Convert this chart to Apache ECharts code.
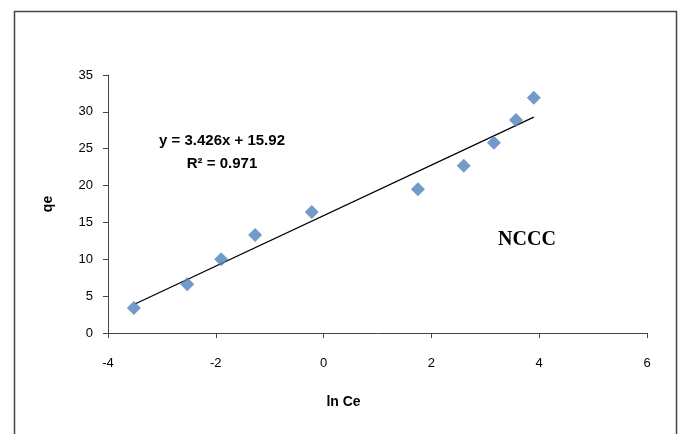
<!DOCTYPE html>
<html>
<head>
<meta charset="utf-8">
<script src="https://cdn.jsdelivr.net/npm/echarts@6/dist/echarts.min.js"></script>
<style>
html,body{margin:0;padding:0;background:#fff;}
#chart{width:679px;height:434px;}
</style>
</head>
<body>
<div id="chart"></div>
<script>
// Data
var lnCe = [-3.52, -2.53, -1.90, -1.27, -0.22, 1.75, 2.60, 3.16, 3.57, 3.90];
var qe   = [3.4, 6.6, 10.0, 13.3, 16.4, 19.5, 22.7, 25.8, 28.9, 31.9];
var trendX = [-3.50, 3.90];
var trendY = [3.93, 29.28];
var xTicks = [-4, -2, 0, 2, 4, 6];
var yTicks = [0, 5, 10, 15, 20, 25, 30, 35];
var eqText = 'y = 3.426x + 15.92';
var r2Text = 'R\u00B2 = 0.971';
var label = 'NCCC';

var chart = echarts.init(document.getElementById('chart'));
var font = 'Liberation Sans';
chart.setOption({
  animation: false,
  backgroundColor: '#fff',
  grid: {left: 108, right: 32, top: 75, bottom: 101},
  xAxis: {
    type: 'value', min: xTicks[0], max: xTicks[xTicks.length-1], interval: 2,
    name: 'ln Ce', nameLocation: 'middle', nameGap: 62,
    nameTextStyle: {fontFamily: font, fontWeight: 'bold', fontSize: 14, color: '#000', padding: [0, 68, 0, 0]},
    axisLine: {show: true, onZero: false, lineStyle: {color: '#444', width: 1}},
    axisTick: {show: true, inside: false, length: 5, lineStyle: {color: '#444'}},
    axisLabel: {fontFamily: font, fontSize: 13, color: '#000', margin: 24},
    splitLine: {show: false}
  },
  yAxis: {
    type: 'value', min: yTicks[0], max: yTicks[yTicks.length-1], interval: 5,
    name: 'qe', nameLocation: 'middle', nameGap: 53, nameRotate: 90,
    nameTextStyle: {fontFamily: font, fontWeight: 'bold', fontSize: 14, color: '#000'},
    axisLine: {show: true, onZero: false, lineStyle: {color: '#444', width: 1}},
    axisTick: {show: true, length: 5, lineStyle: {color: '#444'}},
    axisLabel: {fontFamily: font, fontSize: 13, color: '#000', margin: 15},
    splitLine: {show: false}
  },
  series: [
    {
      type: 'line',
      data: trendX.map(function(x, i){ return [x, trendY[i]]; }),
      symbol: 'none',
      lineStyle: {color: '#000', width: 1.3},
      z: 2
    },
    {
      type: 'scatter',
      data: lnCe.map(function(x, i){ return [x, qe[i]]; }),
      symbol: 'diamond',
      symbolSize: 14,
      itemStyle: {color: '#4F81BD'},
      z: 3
    }
  ],
  graphic: [
    {type: 'rect', shape: {x: 14.5, y: 11.5, width: 662, height: 440}, style: {fill: 'none', stroke: '#444', lineWidth: 1.5}, silent: true},
    {type: 'text', x: 222, y: 141, style: {text: eqText, font: 'bold 15px "Liberation Sans"', fill: '#000', textAlign: 'center', textVerticalAlign: 'middle'}},
    {type: 'text', x: 222, y: 164, style: {text: r2Text, font: 'bold 15px "Liberation Sans"', fill: '#000', textAlign: 'center', textVerticalAlign: 'middle'}},
    {type: 'text', x: 527, y: 240, style: {text: label, font: 'bold 20px "Liberation Serif"', fill: '#000', textAlign: 'center', textVerticalAlign: 'middle'}}
  ]
});
</script>
</body>
</html>
